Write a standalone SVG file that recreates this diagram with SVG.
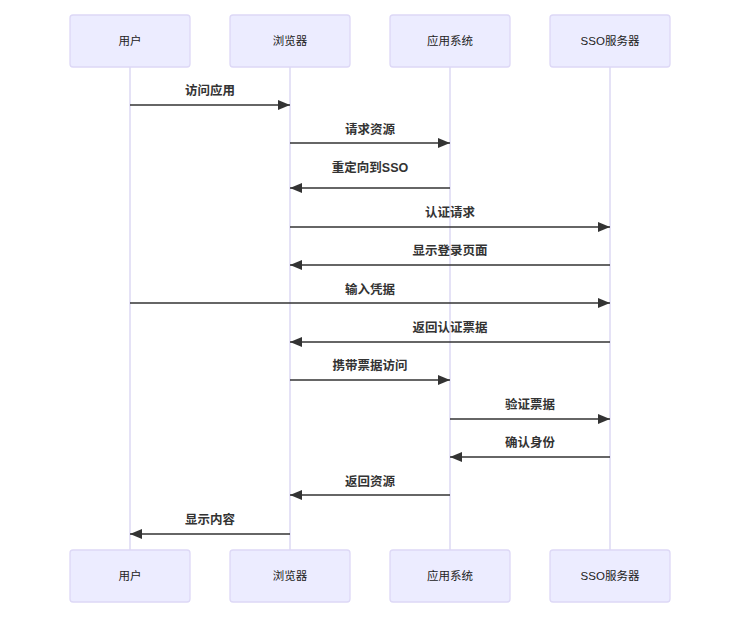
<svg xmlns="http://www.w3.org/2000/svg" width="729" height="618" viewBox="0 0 729 618">
<defs>
<style>
.actor{fill:#ECECFF;stroke:#ddd8f6;stroke-width:1.3}
.atext{font-family:"Liberation Sans","Noto Sans CJK SC",sans-serif;font-size:11.5px;fill:#222;text-anchor:middle;dominant-baseline:central}
.life{stroke:#ddd8f3;stroke-width:1.5}
.msg{stroke:#333;stroke-width:1.3;fill:none}
.mtext{font-family:"Liberation Sans","Noto Sans CJK SC",sans-serif;font-size:12.5px;font-weight:bold;fill:#333;text-anchor:middle;dominant-baseline:central}
</style>
<marker id="arr" viewBox="0 0 12 10" refX="12" refY="5" markerWidth="12" markerHeight="10" markerUnits="userSpaceOnUse" orient="auto">
<path d="M0,0 L12,5 L0,10 Z" fill="#333"/>
</marker>
</defs>
<rect width="729" height="618" fill="#fff"/>
<g id="lifelines">
<line class="life" x1="130" y1="67" x2="130" y2="550"/>
<line class="life" x1="290" y1="67" x2="290" y2="550"/>
<line class="life" x1="450" y1="67" x2="450" y2="550"/>
<line class="life" x1="610" y1="67" x2="610" y2="550"/>
</g>
<g id="user-top"><rect class="actor" x="70" y="15" width="120" height="52" rx="3"/><text class="atext" x="130" y="41">用户</text></g>
<g id="browser-top"><rect class="actor" x="230" y="15" width="120" height="52" rx="3"/><text class="atext" x="290" y="41">浏览器</text></g>
<g id="app-top"><rect class="actor" x="390" y="15" width="120" height="52" rx="3"/><text class="atext" x="450" y="41">应用系统</text></g>
<g id="sso-top"><rect class="actor" x="550" y="15" width="120" height="52" rx="3"/><text class="atext" x="610" y="41">SSO服务器</text></g>
<g id="user-bottom"><rect class="actor" x="70" y="550" width="120" height="52" rx="3"/><text class="atext" x="130" y="576">用户</text></g>
<g id="browser-bottom"><rect class="actor" x="230" y="550" width="120" height="52" rx="3"/><text class="atext" x="290" y="576">浏览器</text></g>
<g id="app-bottom"><rect class="actor" x="390" y="550" width="120" height="52" rx="3"/><text class="atext" x="450" y="576">应用系统</text></g>
<g id="sso-bottom"><rect class="actor" x="550" y="550" width="120" height="52" rx="3"/><text class="atext" x="610" y="576">SSO服务器</text></g>
<g id="connectors">
<line class="msg" x1="130" y1="105" x2="290" y2="105" marker-end="url(#arr)"/>
<text class="mtext" x="210" y="91">访问应用</text>
<line class="msg" x1="290" y1="143" x2="450" y2="143" marker-end="url(#arr)"/>
<text class="mtext" x="370" y="130">请求资源</text>
<line class="msg" x1="450" y1="188" x2="290" y2="188" marker-end="url(#arr)"/>
<text class="mtext" x="370" y="168">重定向到SSO</text>
<line class="msg" x1="290" y1="227" x2="610" y2="227" marker-end="url(#arr)"/>
<text class="mtext" x="450" y="213">认证请求</text>
<line class="msg" x1="610" y1="265" x2="290" y2="265" marker-end="url(#arr)"/>
<text class="mtext" x="450" y="251">显示登录页面</text>
<line class="msg" x1="130" y1="303" x2="610" y2="303" marker-end="url(#arr)"/>
<text class="mtext" x="370" y="290">输入凭据</text>
<line class="msg" x1="610" y1="342" x2="290" y2="342" marker-end="url(#arr)"/>
<text class="mtext" x="450" y="328">返回认证票据</text>
<line class="msg" x1="290" y1="380" x2="450" y2="380" marker-end="url(#arr)"/>
<text class="mtext" x="370" y="366">携带票据访问</text>
<line class="msg" x1="450" y1="419" x2="610" y2="419" marker-end="url(#arr)"/>
<text class="mtext" x="530" y="405">验证票据</text>
<line class="msg" x1="610" y1="457" x2="450" y2="457" marker-end="url(#arr)"/>
<text class="mtext" x="530" y="443">确认身份</text>
<line class="msg" x1="450" y1="495" x2="290" y2="495" marker-end="url(#arr)"/>
<text class="mtext" x="370" y="482">返回资源</text>
<line class="msg" x1="290" y1="534" x2="130" y2="534" marker-end="url(#arr)"/>
<text class="mtext" x="210" y="520">显示内容</text>
</g>
</svg>
